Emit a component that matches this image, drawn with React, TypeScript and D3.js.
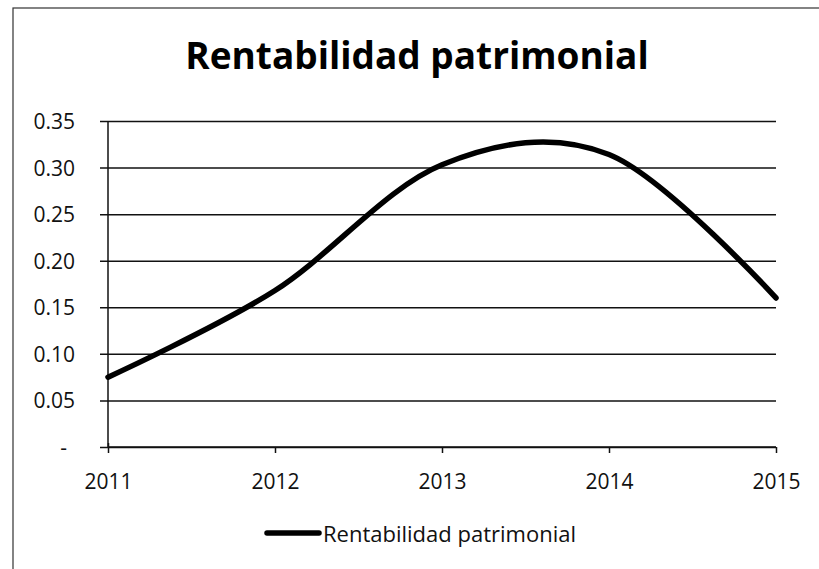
import React, { useEffect, useRef } from 'react';
import * as d3 from 'd3';

const years = [2011, 2012, 2013, 2014, 2015];
const rentabilidad = [0.075, 0.168, 0.303, 0.314, 0.16];
const yTicks = [0, 0.05, 0.1, 0.15, 0.2, 0.25, 0.3, 0.35];
const yTickLabels = ['-', '0.05', '0.10', '0.15', '0.20', '0.25', '0.30', '0.35'];
const seriesName = 'Rentabilidad patrimonial';
const title = 'Rentabilidad patrimonial';

const W = 819;
const H = 569;
const font = '"Open Sans", Lato, sans-serif';

const App = () => {
  const svgRef = useRef<SVGSVGElement>(null);

  useEffect(() => {
    const svg = d3.select(svgRef.current);
    svg.selectAll('*').remove();

    const x = d3.scaleLinear().domain([2011, 2015]).range([108, 776]);
    const y = d3.scaleLinear().domain([0, 0.35]).range([447, 121]);

    // outer frame (only left and top edges visible)
    svg
      .append('rect')
      .attr('x', 13)
      .attr('y', 8)
      .attr('width', W + 20)
      .attr('height', H + 20)
      .attr('fill', 'none')
      .attr('stroke', '#333')
      .attr('stroke-width', 1.2);

    svg
      .append('text')
      .attr('x', 417)
      .attr('y', 69)
      .attr('text-anchor', 'middle')
      .attr('font-family', font)
      .attr('font-weight', 'bold')
      .attr('font-size', 37)
      .text(title);

    // gridlines + y ticks
    const yAxis = svg
      .append('g')
      .attr('transform', 'translate(108,0)')
      .call(
        d3
          .axisLeft(y)
          .tickValues(yTicks)
          .tickSize(8)
          .tickFormat((d, i) => yTickLabels[i])
      );
    yAxis.select('path').attr('stroke', '#111').attr('stroke-width', 1.5).attr('d', `M0,${y(0.35)}V${y(0)}`);
    yAxis.selectAll('.tick line').attr('stroke', '#111').attr('stroke-width', 1.5).attr('x2', x(2015) - 108).attr('x1', -8);
    yAxis
      .selectAll('.tick text')
      .attr('x', (d, i) => (i === 0 ? -41 : -33))
      .attr('dy', '0.36em')
      .attr('fill', '#111')
      .attr('font-family', font)
      .attr('font-size', 21);

    // x axis
    const xAxis = svg
      .append('g')
      .attr('transform', `translate(0,${y(0)})`)
      .call(
        d3
          .axisBottom(x)
          .tickValues(years)
          .tickSize(6)
          .tickFormat(d3.format('d'))
      );
    xAxis.select('path').attr('stroke', '#111').attr('stroke-width', 1.5).attr('d', `M${x(2011)},0H${x(2015)}`);
    xAxis.selectAll('.tick line').attr('stroke', '#111').attr('stroke-width', 1.5).attr('y1', (d, i) => (i === 0 ? -4 : 0));
    xAxis
      .selectAll('.tick text')
      .attr('y', 42)
      .attr('dy', 0)
      .attr('fill', '#111')
      .attr('font-family', font)
      .attr('font-size', 21);

    // smoothed line like Excel's
    const line = d3
      .line<number>()
      .x((d, i) => x(years[i]))
      .y((d) => y(d))
      .curve(d3.curveCardinal.tension(0));

    svg
      .append('path')
      .datum(rentabilidad)
      .attr('d', line)
      .attr('fill', 'none')
      .attr('stroke', '#000')
      .attr('stroke-width', 5.5)
      .attr('stroke-linecap', 'round');

    // legend
    const lg = svg.append('g').attr('transform', 'translate(267,533)');
    lg.append('line').attr('x1', 0).attr('x2', 52).attr('stroke', '#000').attr('stroke-width', 5.5).attr('stroke-linecap', 'round');
    lg.append('text')
      .attr('x', 56)
      .attr('y', 9)
      .attr('font-family', font)
      .attr('font-size', 22)
      .attr('fill', '#111')
      .text(seriesName);
  }, []);

  return <svg ref={svgRef} width={W} height={H} style={{ position: 'absolute', left: 0, top: 0, background: '#fff' }} />;
};

export default App;
